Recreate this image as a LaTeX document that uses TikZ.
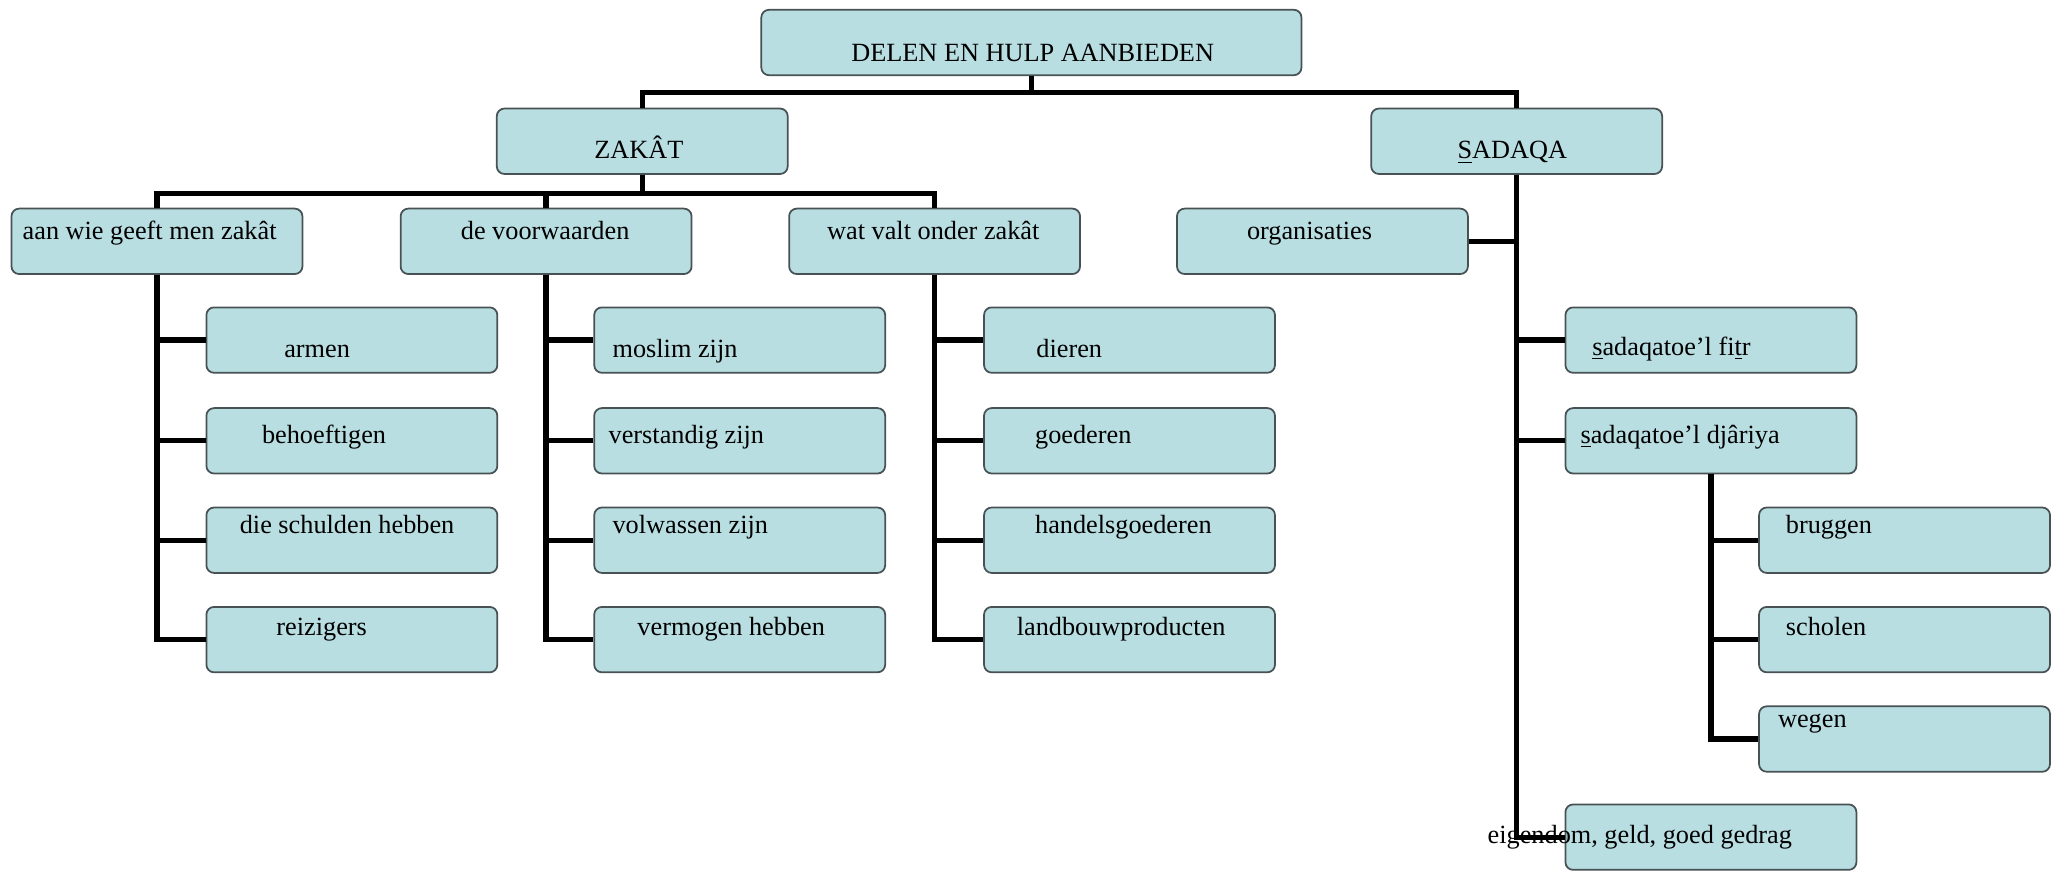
\documentclass[tikz,border=0pt]{standalone}
\usepackage{fontspec}
\setmainfont{Liberation Serif}
\usetikzlibrary{calc}
\definecolor{vakBlauw}{RGB}{184,222,226}
\definecolor{vakRand}{RGB}{72,82,84}
\tikzset{
  vak/.style={draw=vakRand,fill=vakBlauw,rounded corners=3.5pt,line width=0.8pt,minimum width=4.67cm,minimum height=1.05cm,inner sep=0pt},
  vak breed/.style={vak,minimum width=8.67cm},
  tekst/.style={anchor=base west,inner sep=0pt,text=black,font=\fontsize{12}{14}\selectfont},
  tak/.style={line width=2.4pt,draw=black}
}

\begin{document}
\begin{tikzpicture}[x=0.021cm,y=-0.021cm]
  \useasboundingbox (0,0) rectangle (1568,667);
  % bovenste rij
  \node[vak breed] (delen) at (788.5,32.5) {};
  \node[vak] (zakat) at (491,108) {};
  \node[vak] (sadaqa) at (1159.5,108) {};
  \node[vak] (aanwie) at (120,184.5) {};
  \node[vak] (voorwaarden) at (417.5,184.5) {};
  \node[vak] (watvalt) at (714.5,184.5) {};
  \node[vak] (organisaties) at (1011,184.5) {};
  % zakat: aan wie
  \node[vak] (armen) at (269,260) {};
  \node[vak] (behoeftigen) at (269,337) {};
  \node[vak] (schulden) at (269,413) {};
  \node[vak] (reizigers) at (269,489) {};
  % zakat: voorwaarden
  \node[vak] (moslim) at (565.5,260) {};
  \node[vak] (verstandig) at (565.5,337) {};
  \node[vak] (volwassen) at (565.5,413) {};
  \node[vak] (vermogen) at (565.5,489) {};
  % zakat: wat valt eronder
  \node[vak] (dieren) at (863.5,260) {};
  \node[vak] (goederen) at (863.5,337) {};
  \node[vak] (handel) at (863.5,413) {};
  \node[vak] (landbouw) at (863.5,489) {};
  % sadaqa
  \node[vak] (fitr) at (1308,260) {};
  \node[vak] (djariya) at (1308,337) {};
  \node[vak] (bruggen) at (1456,413) {};
  \node[vak] (scholen) at (1456,489) {};
  \node[vak] (wegen) at (1456,565) {};
  \node[vak] (eigendom) at (1308,640) {};

  % teksten
  \node[tekst] (tDelen) at (650.5,47) {DELEN EN HULP AANBIEDEN};
  \node[tekst] (tZakat) at (454,121.5) {ZAKÂT};
  \node[tekst] (tSadaqa) at (1114,121.5) {\underline{S}ADAQA};
  \node[tekst] (tAanwie) at (17,183) {aan wie geeft men zakât};
  \node[tekst] (tVoorwaarden) at (352,183) {de voorwaarden};
  \node[tekst] (tWatvalt) at (632,183) {wat valt onder zakât};
  \node[tekst] (tOrganisaties) at (953,183) {organisaties};
  \node[tekst] (tArmen) at (217,273) {armen};
  \node[tekst] (tBehoeftigen) at (200,339) {behoeftigen};
  \node[tekst] (tSchulden) at (183,408) {die schulden hebben};
  \node[tekst] (tReizigers) at (211,485.5) {reizigers};
  \node[tekst] (tMoslim) at (468,273) {moslim zijn};
  \node[tekst] (tVerstandig) at (465,339) {verstandig zijn};
  \node[tekst] (tVolwassen) at (468,408) {volwassen zijn};
  \node[tekst] (tVermogen) at (487,485.5) {vermogen hebben};
  \node[tekst] (tDieren) at (792,273) {dieren};
  \node[tekst] (tGoederen) at (791,339) {goederen};
  \node[tekst] (tHandel) at (791,408) {handelsgoederen};
  \node[tekst] (tLandbouw) at (777,485.5) {landbouwproducten};
  \node[tekst] (tFitr) at (1217,271.5) {\underline{s}adaqatoe’l fi\underline{t}r};
  \node[tekst] (tDjariya) at (1208,339) {\underline{s}adaqatoe’l djâriya};
  \node[tekst] (tBruggen) at (1365,408) {bruggen};
  \node[tekst] (tScholen) at (1365,485.5) {scholen};
  \node[tekst] (tWegen) at (1359,556) {wegen};
  \node[tekst] (tEigendom) at (1137,644.5) {eigendom, geld, goed gedrag};

  % verbindingen
  \coordinate (balk1) at (788.5,71);
  \coordinate (balk2) at (491,148);
  \draw[tak] (delen.south) -- (balk1);
  \draw[tak] (zakat.north) |- (balk1) -| (sadaqa.north);
  \draw[tak] (zakat.south) -- (balk2);
  \draw[tak] (aanwie.north) |- (balk2) -| (watvalt.north);
  \draw[tak] (voorwaarden.north) |- (balk2);
  \draw[tak] (aanwie.south) |- (armen.west);
  \draw[tak] (aanwie.south) |- (behoeftigen.west);
  \draw[tak] (aanwie.south) |- (schulden.west);
  \draw[tak] (aanwie.south) |- (reizigers.west);
  \draw[tak] (voorwaarden.south) |- (moslim.west);
  \draw[tak] (voorwaarden.south) |- (verstandig.west);
  \draw[tak] (voorwaarden.south) |- (volwassen.west);
  \draw[tak] (voorwaarden.south) |- (vermogen.west);
  \draw[tak] (watvalt.south) |- (dieren.west);
  \draw[tak] (watvalt.south) |- (goederen.west);
  \draw[tak] (watvalt.south) |- (handel.west);
  \draw[tak] (watvalt.south) |- (landbouw.west);
  \draw[tak] (organisaties.east) -- (organisaties.east -| sadaqa.south);
  \draw[tak] (sadaqa.south) |- (fitr.west);
  \draw[tak] (sadaqa.south) |- (djariya.west);
  \draw[tak] (sadaqa.south) |- (eigendom.west);
  \draw[tak] (djariya.south) |- (bruggen.west);
  \draw[tak] (djariya.south) |- (scholen.west);
  \draw[tak] (djariya.south) |- (wegen.west);
\end{tikzpicture}
\end{document}
